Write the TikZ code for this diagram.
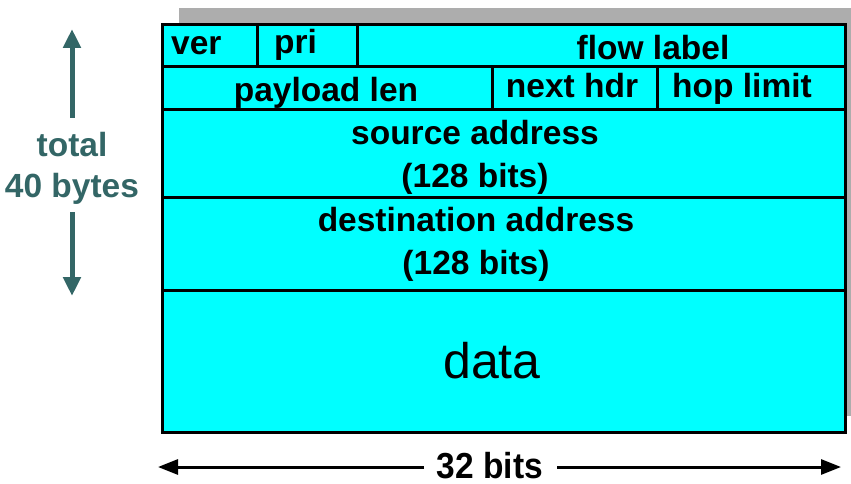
\documentclass[tikz,border=0pt]{standalone}
\usepackage{fontspec}
\setmainfont{Liberation Sans}
\usetikzlibrary{arrows.meta}
\definecolor{boxcyan}{RGB}{0,255,255}
\definecolor{shadowgray}{RGB}{173,173,173}
\definecolor{tealdark}{RGB}{51,102,102}
\tikzset{
  field/.style={draw=black, line width=3pt, fill=boxcyan},
  lbl/.style={anchor=base, inner sep=0pt, font=\fontsize{33.5}{44}\selectfont\bfseries},
  sidelbl/.style={lbl, text=tealdark},
  tarrow/.style={draw=tealdark, line width=5pt, -{Triangle[width=17pt,length=19pt]}},
  barrow/.style={draw=black, line width=3pt, -{Triangle[width=15pt,length=20pt]}}
}
\begin{document}
\begin{tikzpicture}[x=1pt,y=-1pt]
\useasboundingbox (0,0) rectangle (851,484);
% shadow
\fill[shadowgray] (179,8) rectangle (851,416);
% rows
\draw[field] (162,25) rectangle (845,67);
\draw[field] (162,67) rectangle (845,110);
\draw[field] (162,110) rectangle (845,197);
\draw[field] (162,197) rectangle (845,290);
\draw[field] (162,290) rectangle (845,432);
% dividers
\draw[line width=3pt] (257,25) -- (257,67);
\draw[line width=3pt] (357,25) -- (357,67);
\draw[line width=3pt] (492,67) -- (492,110);
\draw[line width=3pt] (657,67) -- (657,110);
% texts
\node[lbl, anchor=base west] (ver) at (171,55) {ver};
\node[lbl, anchor=base west] (pri) at (274,54) {pri};
\node[lbl] (flow) at (653,60) {flow label};
\node[lbl] (plen) at (326,102) {payload len};
\node[lbl] (nhdr) at (572,98) {next hdr};
\node[lbl] (hop) at (742,98) {hop limit};
\node[lbl] (src) at (475,145) {source address};
\node[lbl] (srcb) at (475,187) {(128 bits)};
\node[lbl] (dst) at (476,231) {destination address};
\node[lbl] (dstb) at (476,274) {(128 bits)};
\node[anchor=base, inner sep=0pt, font=\fontsize{50}{56}\selectfont] (data) at (492,378) {data};
% left label and arrows
\node[sidelbl] (total) at (72,157) {total};
\node[sidelbl] (bytes) at (72,197) {40 bytes};
\coordinate (upS) at (72,118);
\coordinate (upE) at (72,29);
\coordinate (dnS) at (72,212);
\coordinate (dnE) at (72,296);
\draw[tarrow] (upS) -- (upE);
\draw[tarrow] (dnS) -- (dnE);
% bottom label and arrows
\node[lbl] (bits) at (490,478) {\scalebox{1}[1.08]{32 bits}};
\coordinate (lS) at (424,467);
\coordinate (lE) at (158,467);
\coordinate (rS) at (557,467);
\coordinate (rE) at (841,467);
\draw[barrow] (lS) -- (lE);
\draw[barrow] (rS) -- (rE);
\end{tikzpicture}
\end{document}
